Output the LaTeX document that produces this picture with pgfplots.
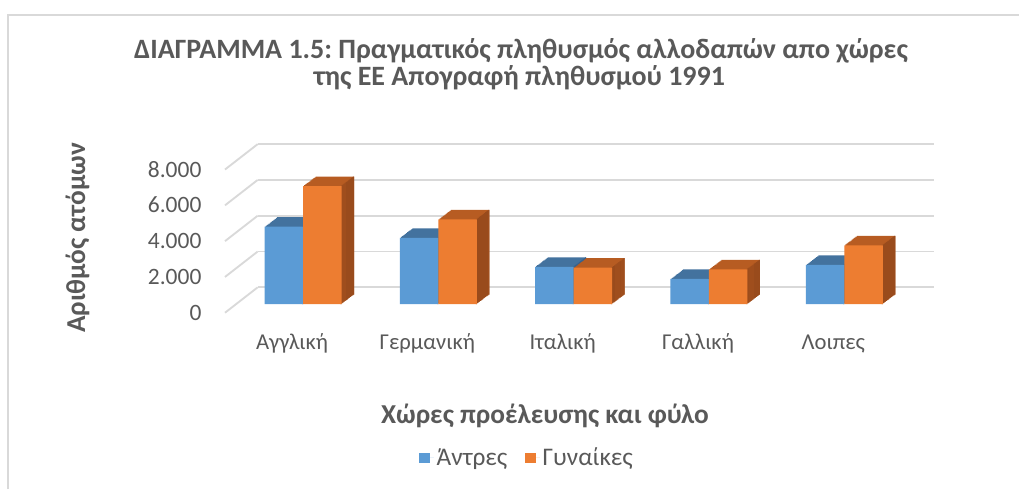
\documentclass[border=0pt]{standalone}
\usepackage{fontspec}
\setmainfont{Carlito}
\usepackage{pgfplots}
\usepackage{pgfplotstable}
\pgfplotsset{compat=1.18}
\frenchspacing
\definecolor{blueF}{HTML}{5B9BD5}
\definecolor{blueT}{HTML}{43729E}
\definecolor{blueS}{HTML}{38628C}
\definecolor{orangeF}{HTML}{ED7D31}
\definecolor{orangeT}{HTML}{B75C22}
\definecolor{orangeS}{HTML}{994B1C}
\definecolor{gridC}{HTML}{D9D9D9}
\definecolor{textC}{HTML}{595959}
\pgfplotstableread{
x men women
0 4320 6590
1 3700 4730
2 2080 2030
3 1400 1940
4 2180 3280
}\data
\pgfplotsset{sqlegend/.style={legend image code/.code={\fill[##1] (0pt,-4.1pt) rectangle (8.2pt,4.1pt); \path (8.2pt,0pt) -- (11.5pt,0pt);}}}
\begin{document}
\begin{tikzpicture}
\path[use as bounding box] (0,0) rectangle (764.25pt,366.75pt);
\draw[line width=1.5pt, color=gridC] (5.625pt,0pt) -- (5.625pt,355.5pt) -- (764.25pt,355.5pt);
\begin{axis}[
  at={(176.55pt,138.75pt)}, anchor=south west,
  scale only axis, width=507.4pt, height=107.4pt,
  xmin=-0.5, xmax=4.5, ymin=0, ymax=8000,
  clip=false,
  axis line style={draw=none},
  major tick length=0pt,
  xtick={0,1,2,3,4},
  xticklabels={Αγγλική,Γερμανική,Ιταλική,Γαλλική,Λοιπες},
  ytick={0,2000,4000,6000,8000},
  yticklabels={0,2.000,4.000,6.000,8.000},
  ymajorgrids,
  major grid style={draw=gridC, line width=1.4pt, xshift=16.7pt, yshift=12.5pt},
  xticklabel style={font=\fontsize{17}{20}\selectfont, text=textC, anchor=base, inner sep=0pt, xshift=-8.25pt, yshift=-34pt},
  yticklabel style={font=\fontsize{17.6}{20}\selectfont, text=textC, anchor=east, inner sep=0pt, xshift=-25.3pt, yshift=-6.4pt},
  legend style={draw=none, fill=none, at={(0.431,-1.0754)}, anchor=center, legend columns=2,
    font=\fontsize{19}{22}\selectfont, text=textC,
    /tikz/every even column/.append style={column sep=11pt}},
  legend cell align=left,
]
\pgfplotsinvokeforeach{0,2000,4000,6000,8000}{
  \draw[gridC, line width=1.4pt] ([xshift=16.7pt,yshift=12.5pt]axis cs:-0.5,#1) -- ++(-24.5pt,-19.05pt);
}
% blue series
\pgfplotsinvokeforeach{1,...,12}{
  \addplot[ybar, bar width=0.2846, bar shift=-0.1423, fill=blueT, draw=none, forget plot,
    xshift={#1*0.78125pt}, yshift={#1*0.59375pt}] table[x=x,y=men]{\data};
}
\pgfplotsinvokeforeach{0,...,12}{
  \addplot[ybar, bar width=0.008, bar shift=-0.004, fill=blueS, draw=none, forget plot,
    xshift={#1*0.78125pt}, yshift={#1*0.59375pt}] table[x=x,y=men]{\data};
}
\addplot[ybar, bar width=0.2846, bar shift=-0.1423, fill=blueF, draw=none, forget plot] table[x=x,y=men]{\data};
% orange series
\pgfplotsinvokeforeach{1,...,12}{
  \addplot[ybar, bar width=0.2846, bar shift=0.1423, fill=orangeT, draw=none, forget plot,
    xshift={#1*0.78125pt}, yshift={#1*0.59375pt}] table[x=x,y=women]{\data};
}
\pgfplotsinvokeforeach{0,...,12}{
  \addplot[ybar, bar width=0.008, bar shift=0.2806, fill=orangeS, draw=none, forget plot,
    xshift={#1*0.78125pt}, yshift={#1*0.59375pt}] table[x=x,y=women]{\data};
}
\addplot[ybar, bar width=0.2846, bar shift=0.1423, fill=orangeF, draw=none, forget plot] table[x=x,y=women]{\data};
\addlegendimage{sqlegend, fill=blueF, draw=none}
\addlegendentry{Άντρες}
\addlegendimage{sqlegend, fill=orangeF, draw=none}
\addlegendentry{Γυναίκες}
\end{axis}
\node[anchor=base, text=textC, font=\bfseries\fontsize{21}{24}\selectfont] at (390.75pt,323.0pt) {ΔΙΑΓΡΑΜΜΑ 1.5: Πραγματικός πληθυσμός αλλοδαπών απο χώρες};
\node[anchor=base, text=textC, font=\bfseries\fontsize{21}{24}\selectfont] at (389.6pt,302.25pt) {της ΕΕ Απογραφή πληθυσμού 1991};
\node[anchor=base, text=textC, font=\bfseries\fontsize{20.5}{24}\selectfont] at (408.75pt,49.5pt) {Χώρες προέλευσης και φύλο};
\node[anchor=base, rotate=90, text=textC, font=\bfseries\fontsize{20.5}{24}\selectfont] at (63.75pt,188.25pt) {Αριθμός ατόμων};
\end{tikzpicture}
\end{document}
